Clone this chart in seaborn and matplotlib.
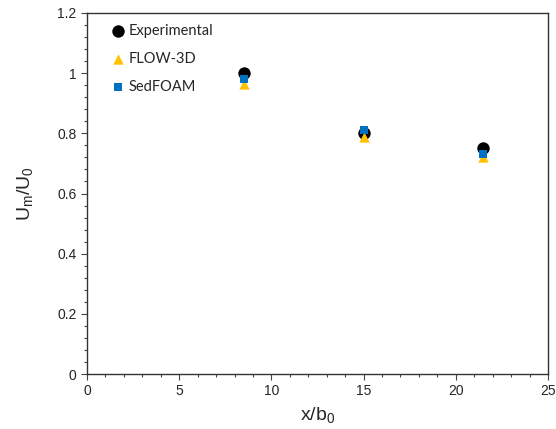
import matplotlib
matplotlib.use("Agg")
import matplotlib.pyplot as plt
from matplotlib.ticker import MultipleLocator
import seaborn as sns
import pandas as pd

# Normalised jet centreline velocity decay
x_pos = [8.5, 15.0, 21.5]
experimental = [1.00, 0.80, 0.75]
flow3d = [0.965, 0.788, 0.72]
sedfoam = [0.98, 0.81, 0.73]

series_names = ["Experimental", "FLOW-3D", "SedFOAM"]
series_values = [experimental, flow3d, sedfoam]
colors = {"Experimental": "#000000", "FLOW-3D": "#FFC000", "SedFOAM": "#0070C0"}
markers = {"Experimental": "o", "FLOW-3D": "^", "SedFOAM": "s"}
sizes = {"Experimental": 80, "FLOW-3D": 55, "SedFOAM": 38}

sns.set_style("ticks")
plt.rcParams["font.family"] = ["Liberation Sans", "DejaVu Sans"]
plt.rcParams["mathtext.fontset"] = "custom"
plt.rcParams["mathtext.rm"] = "Liberation Sans"
plt.rcParams["mathtext.it"] = "Liberation Sans"

fig = plt.figure(figsize=(5.56, 4.29), dpi=100)
ax = fig.add_axes([0.1565, 0.1282, 0.829, 0.8415])

for name, vals in zip(series_names, series_values):
    df = pd.DataFrame({"x": x_pos, "y": vals})
    sns.scatterplot(data=df, x="x", y="y", ax=ax, color=colors[name],
                    marker=markers[name], s=sizes[name], linewidth=0,
                    label=name, zorder=3)

ax.set_xlim(0, 25)
ax.set_ylim(0, 1.2)
ax.xaxis.set_major_locator(MultipleLocator(5))
ax.xaxis.set_minor_locator(MultipleLocator(1))
ax.yaxis.set_minor_locator(MultipleLocator(0.04))
ax.set_yticks([0, 0.2, 0.4, 0.6, 0.8, 1.0, 1.2])
ax.set_yticklabels(["0", "0.2", "0.4", "0.6", "0.8", "1", "1.2"])
ax.tick_params(which="major", direction="out", length=4, width=0.8,
               labelsize=10, color="#444444")
ax.tick_params(which="minor", direction="out", length=2.5, width=0.8,
               color="#444444")
for sp in ax.spines.values():
    sp.set_linewidth(1.0)
    sp.set_color("#333333")

ax.set_xlabel(r"x/b$_\mathrm{0}$", fontsize=14, labelpad=5)
ax.set_ylabel(r"U$_\mathrm{m}$/U$_\mathrm{0}$", fontsize=14, labelpad=16)

leg = ax.legend(loc="upper left", bbox_to_anchor=(0.03, 0.995), frameon=False,
                handletextpad=0.1, labelspacing=0.98,
                prop={"family": ["Lato", "DejaVu Sans"], "size": 10.5},
                handlelength=1.2, borderaxespad=0.2)

fig.savefig("out.png", dpi=100)
